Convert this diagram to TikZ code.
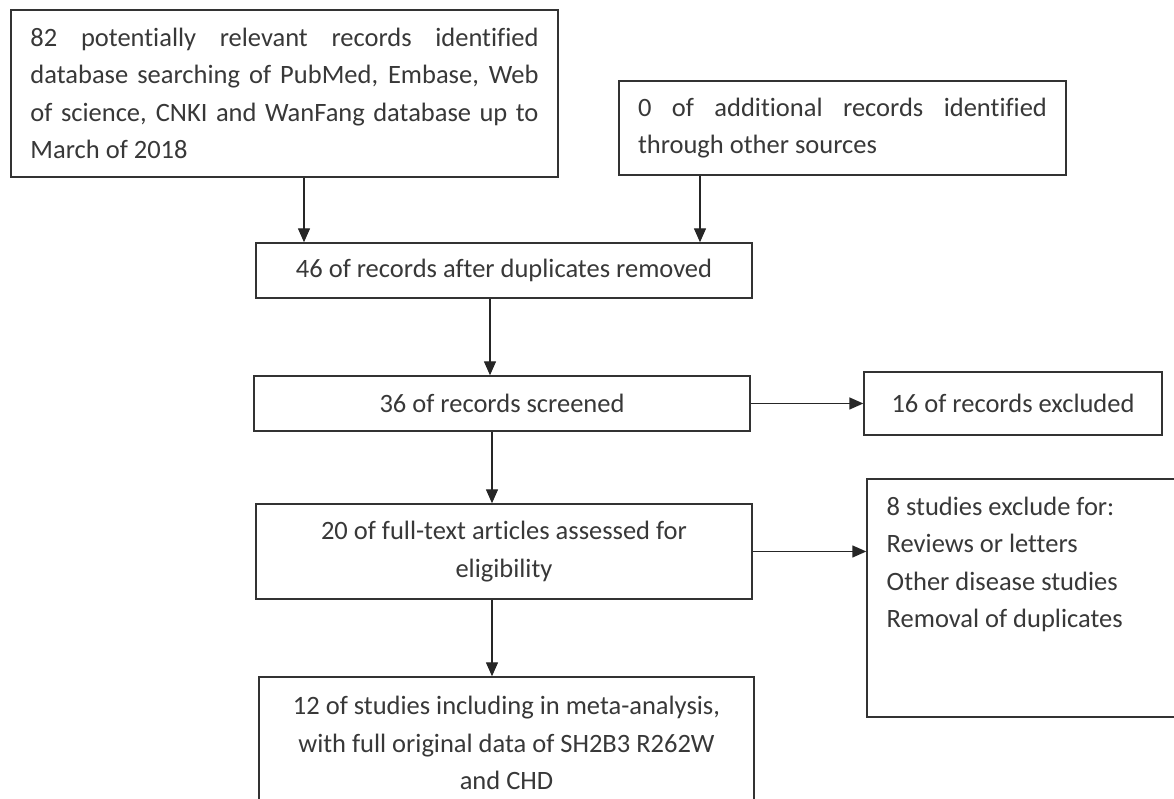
\documentclass[tikz,border=0pt]{standalone}
\usepackage{fontspec}
\setmainfont{Carlito}[Ligatures=NoCommon]
\usetikzlibrary{arrows.meta}

\begin{document}
\begin{tikzpicture}[
	box/.style={draw=black!80, line width=1pt, text=black!78, inner sep=0pt,
		minimum width=12.4cm, minimum height=1.375cm,
		font=\fontsize{18.85}{26.7}\selectfont},
	arr/.style={draw=black!85, line width=1pt, -{Triangle[width=0.3cm,length=0.35cm]}}
	]
	\path[use as bounding box, fill=white] (0,0) rectangle (29.35,19.975);
	\clip (0,0) rectangle (29.35,19.975);
	%Kaesten
	\node[box, minimum width=13.675cm, minimum height=4.175cm, text width=12.7cm, align=justify] (search) at (7.1125,17.6375)
		{82 potentially relevant records identified\linebreak database searching of PubMed, Embase, Web\linebreak of science, CNKI and WanFang database up to\linebreak March of 2018};
	\node[box, minimum width=11.175cm, minimum height=2.35cm, text width=10.225cm, align=justify] (other) at (21.0625,16.775)
		{0 of additional records identified\linebreak through other sources};
	\node[box] (dupl) at (12.6,13.2125) {46 of records after duplicates removed};
	\node[box] (screen) at (12.55,9.8875) {36 of records screened};
	\node[box, minimum width=7.45cm, minimum height=1.575cm] (excl) at (25.325,9.8875) {16 of records excluded};
	\node[box, minimum height=2.375cm, align=center] (full) at (12.6,6.1875) {20 of full-text articles assessed for\\eligibility};
	\node[box, minimum width=7.95cm, minimum height=5.95cm] (reasons) at (25.65,5.025) {};
	\node[box, draw=none, minimum width=0pt, minimum height=0pt, anchor=north west, align=left] (reasonstext) at (22.15,7.575)
		{8 studies exclude for:\\Reviews or letters\\Other disease studies\\Removal of duplicates};
	\node[box, minimum width=12.375cm, minimum height=3.3cm, align=center] (incl) at (12.6625,1.4)
		{12 of studies including in meta-analysis,\\with full original data of SH2B3 R262W\\and CHD};
	%Pfeile
	\coordinate (s1) at (7.6,0);
	\coordinate (s2) at (17.5,0);
	\coordinate (s3) at (12.25,0);
	\coordinate (s4) at (12.3,0);
	\draw[arr] (search.south -| s1) -- (dupl.north -| s1);
	\draw[arr] (other.south -| s2) -- (dupl.north -| s2);
	\draw[arr] (dupl.south -| s3) -- (screen.north -| s3);
	\draw[arr] (screen.east) -- (excl.west);
	\draw[arr] (screen.south -| s4) -- (full.north -| s4);
	\draw[arr] (full.east) -- (full.east -| reasons.west);
	\draw[arr] (full.south -| s4) -- (incl.north -| s4);
\end{tikzpicture}
\end{document}
